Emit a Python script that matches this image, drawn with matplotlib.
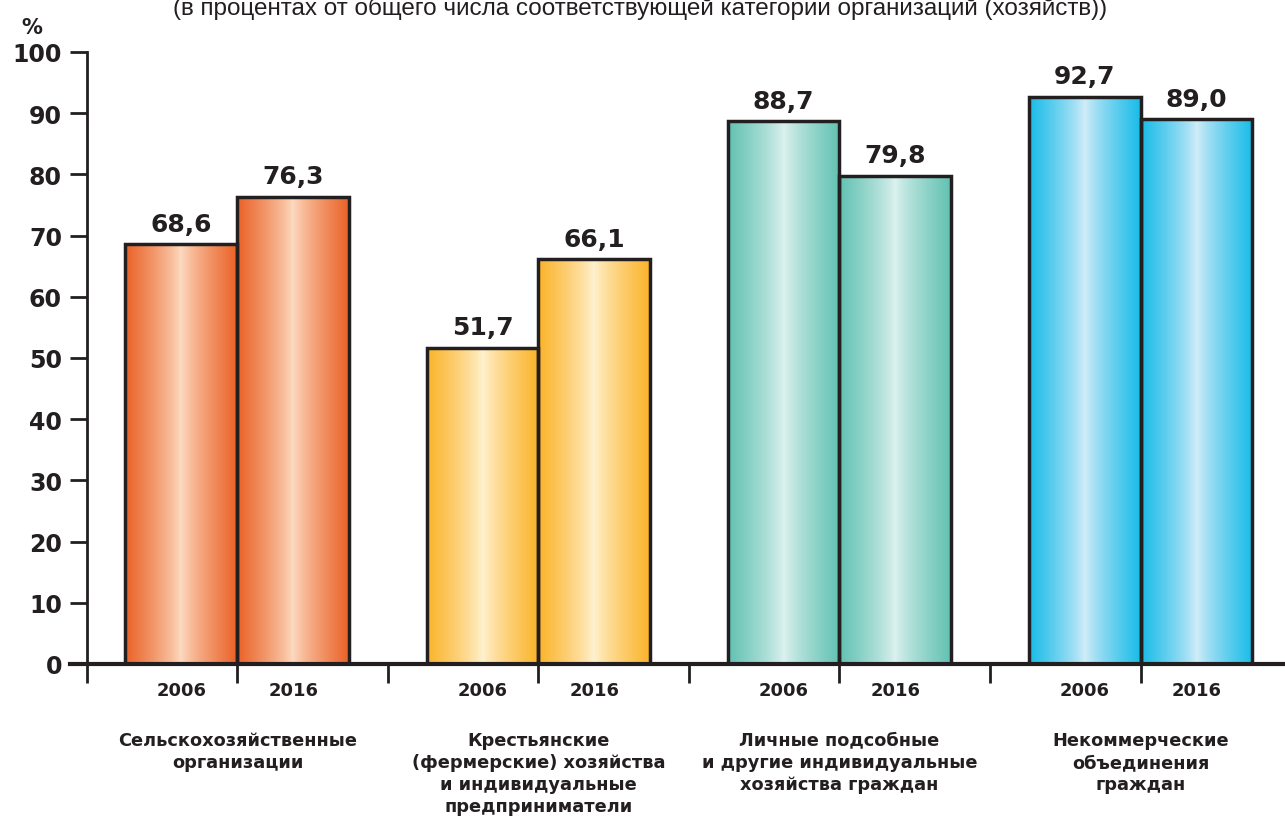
import numpy as np
import matplotlib.pyplot as plt
from matplotlib.colors import LinearSegmentedColormap

# data
categories = ['Сельскохозяйственные\nорганизации',
              'Крестьянские\n(фермерские) хозяйства\nи индивидуальные\nпредприниматели',
              'Личные подсобные\nи другие индивидуальные\nхозяйства граждан',
              'Некоммерческие\nобъединения\nграждан']
years = ['2006', '2016']
values_2006 = [68.6, 51.7, 88.7, 92.7]
values_2016 = [76.3, 66.1, 79.8, 89.0]
labels_2006 = ['68,6', '51,7', '88,7', '92,7']
labels_2016 = ['76,3', '66,1', '79,8', '89,0']
yticks = [0, 10, 20, 30, 40, 50, 60, 70, 80, 90, 100]

# edge colour / centre colour of the gradient fill per category
edge_colors = ['#EA6328', '#FBB42A', '#62C2B3', '#19BCE8']
mid_colors = ['#FDDAC0', '#FFF1CF', '#DCF1EE', '#D2ECF8']

TXT = '#231F20'
plt.rcParams['font.family'] = ['DejaVu Sans']

fig = plt.figure(figsize=(12.85, 8.2), dpi=100)
ax = fig.add_axes([70.4 / 1285, 155 / 820, (1285 - 70.4) / 1285, 612 / 820])

bw = 0.372
grad = np.abs(np.linspace(-1, 1, 256)) ** 0.8
grad = np.vstack([grad, grad])

for i in range(4):
    cmap = LinearSegmentedColormap.from_list('g%d' % i, [mid_colors[i], edge_colors[i]])
    for j, v in enumerate([values_2006[i], values_2016[i]]):
        x0 = i + 0.5 - bw if j == 0 else i + 0.5
        im = ax.imshow(grad, cmap=cmap, aspect='auto', extent=(x0, x0 + bw, 0, v),
                       interpolation='bilinear', zorder=2)
        rect = plt.Rectangle((x0, 0), bw, v, fill=False, ec=TXT, lw=2.5, zorder=3)
        ax.add_patch(rect)
        im.set_clip_path(rect)
        lab = labels_2006[i] if j == 0 else labels_2016[i]
        ax.text(x0 + bw / 2, v + 1.4, lab, ha='center', va='bottom',
                fontsize=18, fontweight='bold', color=TXT)
        ax.text(x0 + bw / 2, -4.3, years[j], ha='center', va='center',
                fontsize=13, fontweight='bold', color=TXT, clip_on=False)
    ax.text(i + 0.5, -10.9, categories[i], ha='center', va='top',
            fontsize=12.8, fontweight='bold', color=TXT, linespacing=1.3, clip_on=False)

ax.set_aspect('auto')
ax.set_xlim(-0.055, 3.98)
ax.set_ylim(0, 100)

for s in ['top', 'right']:
    ax.spines[s].set_visible(False)
ax.spines['left'].set_position(('data', 0))
ax.spines['left'].set_linewidth(2)
ax.spines['left'].set_color(TXT)
ax.spines['bottom'].set_linewidth(3)
ax.spines['bottom'].set_color(TXT)
ax.spines['bottom'].set_zorder(5)

ax.set_yticks(yticks)
ax.set_yticklabels([str(t) for t in yticks], fontsize=17, fontweight='bold', color=TXT)
ax.tick_params(axis='y', length=12, width=2, color=TXT, pad=6)

ax.set_xticks([0, 0.5, 1, 1.5, 2, 2.5, 3, 3.5])
ax.set_xticklabels([])
ax.tick_params(axis='x', length=14, width=2, color=TXT, direction='out')

fig.text(32 / 1285, 1 - 28 / 820, '%', ha='center', va='center',
         fontsize=15, fontweight='bold', color=TXT)
fig.text(640 / 1285, 1 - 15 / 820,
         '(в процентах от общего числа соответствующей категории организаций (хозяйств))',
         ha='center', va='baseline', fontsize=17.5, color=TXT,
         family=['Liberation Sans'])

fig.savefig('out.png', dpi=100)
